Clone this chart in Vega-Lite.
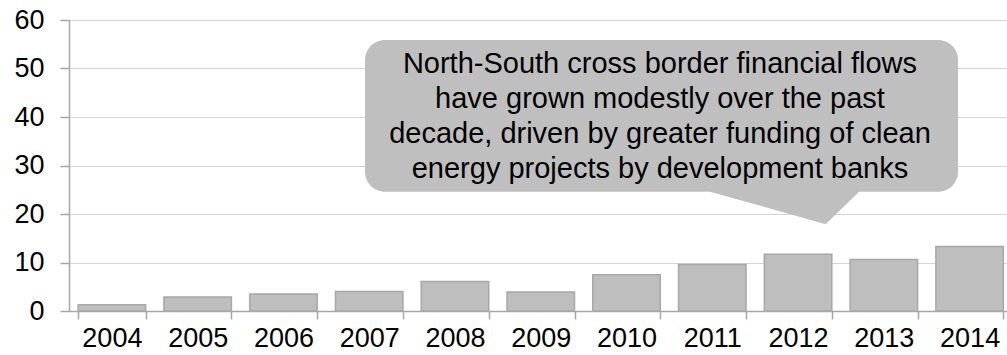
{
  "$schema": "https://vega.github.io/schema/vega-lite/v6.json",
  "autosize": "none",
  "width": 943.5,
  "height": 291,
  "padding": {"left": 69, "top": 20, "right": 0, "bottom": 44},
  "background": "white",
  "config": {
    "view": {"stroke": null},
    "font": "Liberation Sans"
  },
  "layer": [
    {
      "data": {
        "values": [
          {"year": "2004", "value": 1.3},
          {"year": "2005", "value": 2.9},
          {"year": "2006", "value": 3.5},
          {"year": "2007", "value": 4.0},
          {"year": "2008", "value": 6.1},
          {"year": "2009", "value": 3.9},
          {"year": "2010", "value": 7.5},
          {"year": "2011", "value": 9.6},
          {"year": "2012", "value": 11.7},
          {"year": "2013", "value": 10.6},
          {"year": "2014", "value": 13.3}
        ]
      },
      "mark": {"type": "bar", "color": "#bfbebf", "stroke": "#a8a8a8", "strokeWidth": 1.5},
      "encoding": {
        "x": {
          "field": "year",
          "type": "ordinal",
          "scale": {"paddingInner": 0.213, "paddingOuter": 0.1065},
          "axis": {
            "title": null,
            "labelAngle": 0,
            "tickBand": "extent",
            "tickSize": 8,
            "tickColor": "#a6a6a6",
            "domainColor": "#a6a6a6",
            "domainWidth": 1.5,
            "tickWidth": 1.5,
            "labelFontSize": 27,
            "labelColor": "#000000",
            "labelPadding": 6,
            "grid": false
          }
        },
        "y": {
          "field": "value",
          "type": "quantitative",
          "scale": {"domain": [0, 60], "nice": false},
          "axis": {
            "title": null,
            "values": [0, 10, 20, 30, 40, 50, 60],
            "grid": true,
            "gridColor": "#a8a8a8",
            "gridDash": [1, 1],
            "gridWidth": 1,
            "tickSize": 9,
            "tickColor": "#a6a6a6",
            "tickWidth": 1.5,
            "domainColor": "#a6a6a6",
            "domainWidth": 1.5,
            "labelFontSize": 27,
            "labelColor": "#000000",
            "labelPadding": 16
          }
        }
      }
    },
    {
      "data": {"values": [{"x1": 2006.951, "x2": 2013.865, "top": 55.88, "bottom": 24.6}]},
      "mark": {"type": "rect", "cornerRadius": 20, "color": "#c0bfc0"},
      "encoding": {
        "x": {"field": "x1", "type": "quantitative", "scale": {"domain": [2003.5, 2014.5], "nice": false, "zero": false}, "axis": null},
        "x2": {"field": "x2"},
        "y": {"field": "top", "type": "quantitative"},
        "y2": {"field": "bottom"}
      }
    },
    {
      "data": {
        "values": [
          {"x": 2010.973, "lo": 24.6, "hi": 25.4},
          {"x": 2012.322, "lo": 17.9, "hi": 25.4},
          {"x": 2012.711, "lo": 24.6, "hi": 25.4}
        ]
      },
      "mark": {"type": "area", "color": "#c0bfc0", "interpolate": "linear", "orient": "vertical"},
      "encoding": {
        "x": {"field": "x", "type": "quantitative", "scale": {"domain": [2003.5, 2014.5], "nice": false, "zero": false}, "axis": null},
        "y": {"field": "lo", "type": "quantitative"},
        "y2": {"field": "hi"}
      }
    },
    {
      "data": {
        "values": [
          {"x": 2010.39, "y": 49.0, "note": "North-South cross border financial flows\nhave grown modestly over the past\ndecade, driven by greater funding of clean\nenergy projects by development banks"}
        ]
      },
      "mark": {"type": "text", "lineBreak": "\n", "fontSize": 29, "lineHeight": 35, "align": "center", "baseline": "alphabetic", "color": "#000000"},
      "encoding": {
        "x": {"field": "x", "type": "quantitative", "scale": {"domain": [2003.5, 2014.5], "nice": false, "zero": false}, "axis": null},
        "y": {"field": "y", "type": "quantitative"},
        "text": {"field": "note"}
      }
    }
  ],
  "resolve": {"scale": {"x": "independent"}}
}
